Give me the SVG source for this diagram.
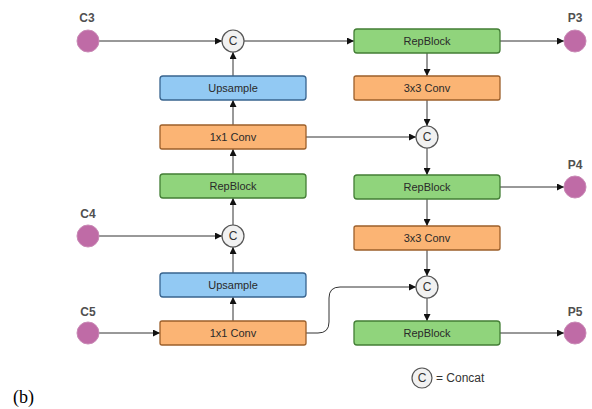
<svg xmlns="http://www.w3.org/2000/svg" width="592" height="409" viewBox="0 0 592 409">
  <style>
    .box { stroke-width: 1.3; }
    .up { fill: #92c9f3; stroke: #38648f; }
    .conv { fill: #fbb474; stroke: #9c5f2a; }
    .rep { fill: #90d47c; stroke: #437e35; }
    .lbl { font-family: "Liberation Sans", Arial, sans-serif; font-size: 11px; fill: #2a2a2a; text-anchor: middle; }
    .io { fill: #bf6ba6; stroke: #c98ab6; stroke-width: 1; }
    .iolbl { font-family: "Liberation Sans", Arial, sans-serif; font-size: 12px; font-weight: bold; fill: #505050; text-anchor: middle; }
    .cat { fill: #f1f1f1; stroke: #555; stroke-width: 1.2; }
    .catlbl { font-family: "Liberation Sans", Arial, sans-serif; font-size: 12px; fill: #333; text-anchor: middle; }
    .edge { fill: none; stroke: #333; stroke-width: 1; marker-end: url(#arr); }
  </style>
  <defs>
    <marker id="arr" viewBox="0 0 10 10" refX="10" refY="5" markerWidth="7" markerHeight="7" markerUnits="userSpaceOnUse" orient="auto">
      <path d="M0,0 L10,5 L0,10 z" fill="#111"/>
    </marker>
  </defs>
  <rect width="592" height="409" fill="#ffffff"/>

  <!-- connectors -->
  <g id="connectors">
    <path class="edge" d="M99,41 H222"/>
    <path class="edge" d="M244,41 H354"/>
    <path class="edge" d="M500,41 H564"/>
    <path class="edge" d="M427,53 V76"/>
    <path class="edge" d="M427,100 V126"/>
    <path class="edge" d="M306,137 H416"/>
    <path class="edge" d="M427,148 V175"/>
    <path class="edge" d="M500,187 H564"/>
    <path class="edge" d="M427,199 V226"/>
    <path class="edge" d="M427,250 V276"/>
    <path class="edge" d="M427,298 V321"/>
    <path class="edge" d="M500,333 H564"/>
    <path class="edge" d="M99,333 H160"/>
    <path class="edge" d="M233,321 V297"/>
    <path class="edge" d="M233,273 V247"/>
    <path class="edge" d="M99,236 H222"/>
    <path class="edge" d="M233,225 V198"/>
    <path class="edge" d="M233,174 V149"/>
    <path class="edge" d="M233,125 V100"/>
    <path class="edge" d="M233,76 V52"/>
    <path class="edge" d="M306,333 H318 Q329,333 329,322 V298 Q329,287 340,287 H416"/>
  </g>

  <!-- inputs -->
  <g id="c3"><circle class="io" cx="88" cy="41" r="11"/><text class="iolbl" x="87" y="22">C3</text></g>
  <g id="c4"><circle class="io" cx="88" cy="236" r="11"/><text class="iolbl" x="88" y="218">C4</text></g>
  <g id="c5"><circle class="io" cx="88" cy="333" r="11"/><text class="iolbl" x="88" y="316">C5</text></g>

  <!-- outputs -->
  <g id="p3"><circle class="io" cx="575" cy="41" r="11"/><text class="iolbl" x="575" y="22">P3</text></g>
  <g id="p4"><circle class="io" cx="575" cy="187" r="11"/><text class="iolbl" x="575" y="169">P4</text></g>
  <g id="p5"><circle class="io" cx="575" cy="333" r="11"/><text class="iolbl" x="575" y="316">P5</text></g>

  <!-- left column -->
  <g id="upsample1"><rect class="box up" x="160" y="76" width="146" height="24" rx="3"/><text class="lbl" x="233" y="92">Upsample</text></g>
  <g id="conv1x1a"><rect class="box conv" x="160" y="125" width="146" height="24" rx="2"/><text class="lbl" x="233" y="141">1x1 Conv</text></g>
  <g id="repblock1"><rect class="box rep" x="160" y="174" width="146" height="24" rx="3"/><text class="lbl" x="233" y="190">RepBlock</text></g>
  <g id="upsample2"><rect class="box up" x="160" y="273" width="146" height="24" rx="3"/><text class="lbl" x="233" y="289">Upsample</text></g>
  <g id="conv1x1b"><rect class="box conv" x="160" y="321" width="146" height="24" rx="2"/><text class="lbl" x="233" y="337">1x1 Conv</text></g>

  <!-- right column -->
  <g id="repblock2"><rect class="box rep" x="354" y="29" width="146" height="24" rx="3"/><text class="lbl" x="427" y="45">RepBlock</text></g>
  <g id="conv3x3a"><rect class="box conv" x="354" y="76" width="146" height="24" rx="2"/><text class="lbl" x="427" y="92">3x3 Conv</text></g>
  <g id="repblock3"><rect class="box rep" x="354" y="175" width="146" height="24" rx="3"/><text class="lbl" x="427" y="191">RepBlock</text></g>
  <g id="conv3x3b"><rect class="box conv" x="354" y="226" width="146" height="24" rx="2"/><text class="lbl" x="427" y="242">3x3 Conv</text></g>
  <g id="repblock4"><rect class="box rep" x="354" y="321" width="146" height="24" rx="3"/><text class="lbl" x="427" y="337">RepBlock</text></g>

  <!-- concat nodes -->
  <g id="concat1"><circle class="cat" cx="233" cy="41" r="11"/><text class="catlbl" x="233" y="45">C</text></g>
  <g id="concat2"><circle class="cat" cx="427" cy="137" r="11"/><text class="catlbl" x="427" y="141">C</text></g>
  <g id="concat3"><circle class="cat" cx="233" cy="236" r="11"/><text class="catlbl" x="233" y="240">C</text></g>
  <g id="concat4"><circle class="cat" cx="427" cy="287" r="11"/><text class="catlbl" x="427" y="291">C</text></g>

  <!-- legend -->
  <g id="legend">
    <circle class="cat" cx="422" cy="378" r="10"/>
    <text class="catlbl" x="422" y="382">C</text>
    <text x="436" y="382" font-family="'Liberation Sans', Arial, sans-serif" font-size="12" fill="#333">= Concat</text>
  </g>

  <text x="13" y="403" font-family="'Liberation Serif', 'Times New Roman', serif" font-size="18" fill="#000">(b)</text>
</svg>
